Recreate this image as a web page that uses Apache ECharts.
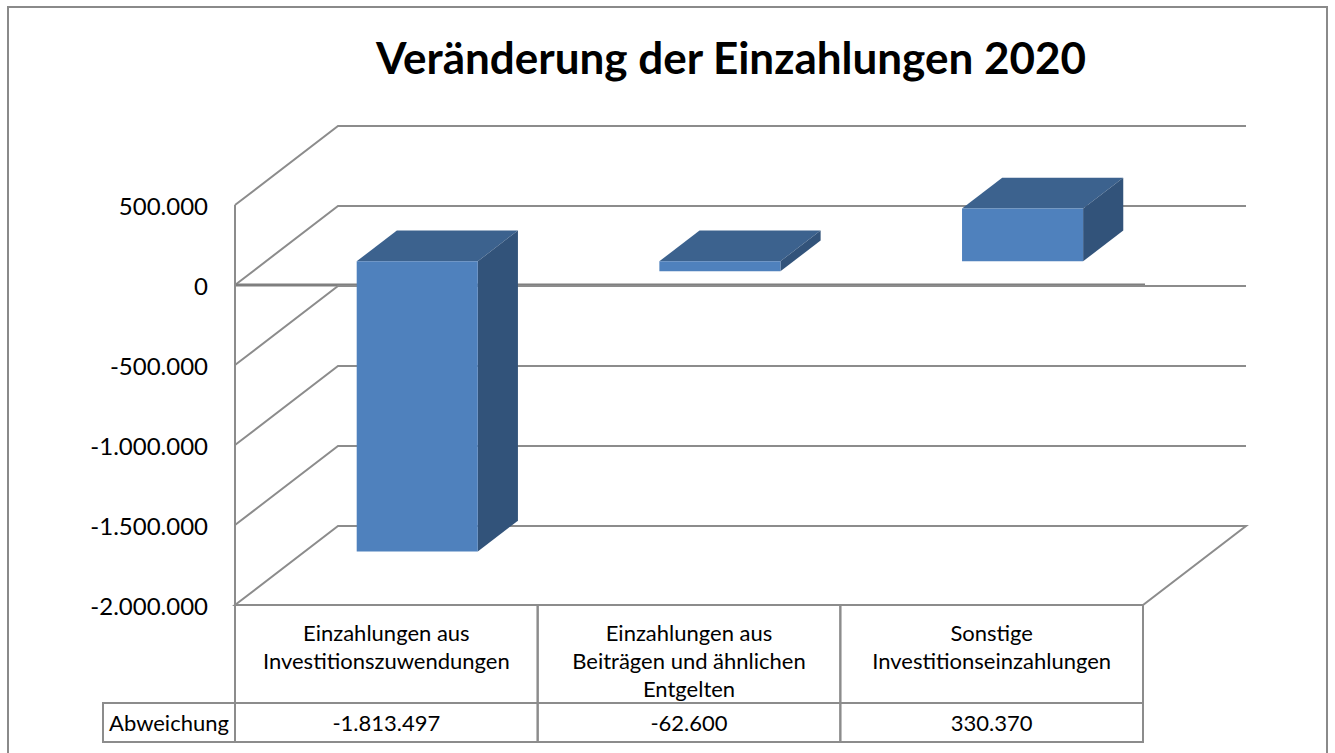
<!DOCTYPE html>
<html>
<head>
<meta charset="utf-8">
<script src="https://cdn.jsdelivr.net/npm/echarts@6/dist/echarts.min.js"></script>
<style>
html, body { margin: 0; padding: 0; background: #fff; }
#main { width: 1335px; height: 753px; }
</style>
</head>
<body>
<div id="main"></div>
<script>
// data
var categories = [
  'Einzahlungen aus\nInvestitionszuwendungen',
  'Einzahlungen aus\nBeiträgen und ähnlichen\nEntgelten',
  'Sonstige\nInvestitionseinzahlungen'
];
var abweichung = [-1813497, -62600, 330370];
var rowLabel = 'Abweichung';
var yTicks = [500000, 0, -500000, -1000000, -1500000, -2000000];

var FONT = 'Lato, "Open Sans", sans-serif';
var DX = 103, DY = -79;   // depth of the 3d box
var LINE = '#8c8c8c';
var yMax = yTicks[0], yMin = yTicks[yTicks.length - 1];

function fmt(v) {
  var s = String(Math.abs(v)).replace(/\B(?=(\d{3})+(?!\d))/g, '.');
  return (v < 0 ? '-' : '') + s;
}

var myChart = echarts.init(document.getElementById('main'), null, { renderer: 'svg' });

// back wall, left wall and floor lines
function renderWall(params, api) {
  var cs = params.coordSys;
  var v = api.value(1);
  var y = api.coord([0, v])[1];
  var x0 = cs.x, x1 = cs.x + cs.width;
  var kids = [];
  if (v === yMin) {
    kids.push({
      type: 'polygon',
      shape: { points: [[x0, y], [x1, y], [x1 + DX, y + DY], [x0 + DX, y + DY]] },
      style: { fill: 'none', stroke: LINE, lineWidth: 2 }
    });
    kids.push({
      type: 'line',
      shape: { x1: x0, y1: api.coord([0, yMax])[1], x2: x0, y2: y },
      style: { stroke: LINE, lineWidth: 2 }
    });
  } else {
    kids.push({
      type: 'polyline',
      shape: { points: [[x0, y], [x0 + DX, y + DY], [x1 + DX, y + DY]] },
      style: { fill: 'none', stroke: LINE, lineWidth: 2 }
    });
  }
  if (v === 0) {
    kids.push({
      type: 'line',
      shape: { x1: x0, y1: y, x2: x1 + 2, y2: y },
      style: { stroke: '#7f7f7f', lineWidth: 3 }
    });
  }
  return { type: 'group', children: kids };
}

// 3d bars
function renderBar(params, api) {
  var i = api.value(0), v = api.value(1);
  var base = api.coord([i, 0]), end = api.coord([i, v]);
  var w = api.size([1, 0])[0] * 0.4;
  var fx = 0.3 * DX, fy = 0.3 * DY;
  var bx = 0.39 * DX, by = 0.39 * DY;
  var l = base[0] - w / 2 + fx, r = l + w;
  var top = Math.min(base[1], end[1]) + fy;
  var bot = Math.max(base[1], end[1]) + fy;
  return {
    type: 'group',
    children: [
      { type: 'polygon', shape: { points: [[l, top], [r, top], [r + bx, top + by], [l + bx, top + by]] },
        style: { fill: '#3C628E' } },
      { type: 'polygon', shape: { points: [[r, top], [r + bx, top + by], [r + bx, bot + by], [r, bot]] },
        style: { fill: '#32537A' } },
      { type: 'rect', shape: { x: l, y: top, width: w, height: bot - top },
        style: { fill: '#4F81BD' } }
    ]
  };
}

// data table under the plot
function renderTable(params, api) {
  var cs = params.coordSys;
  var i = api.value(0);
  var c = api.coord([i, yMin]);
  var w = api.size([1, 0])[0];
  var l = c[0] - w / 2, top = cs.y + cs.height;
  var H1 = 98, H2 = 39;
  var cell = { fill: 'none', stroke: LINE, lineWidth: 2 };
  var kids = [
    { type: 'rect', shape: { x: l, y: top, width: w, height: H1 }, style: cell },
    { type: 'rect', shape: { x: l, y: top + H1, width: w, height: H2 }, style: cell },
    { type: 'text', x: c[0], y: top + 13,
      style: { text: categories[i], align: 'center', verticalAlign: 'top', lineHeight: 28,
               fontSize: 22, fontFamily: FONT, fill: '#000' } },
    { type: 'text', x: c[0], y: top + H1 + H2 / 2,
      style: { text: fmt(abweichung[i]), align: 'center', verticalAlign: 'middle',
               fontSize: 22, fontFamily: FONT, fill: '#000' } }
  ];
  if (i === 0) {
    kids.push({ type: 'rect', shape: { x: 103, y: top + H1, width: l - 103, height: H2 }, style: cell });
    kids.push({ type: 'text', x: (103 + l) / 2, y: top + H1 + H2 / 2,
      style: { text: rowLabel, align: 'center', verticalAlign: 'middle',
               fontSize: 22, fontFamily: FONT, fill: '#000' } });
  }
  return { type: 'group', children: kids };
}

myChart.setOption({
  animation: false,
  backgroundColor: '#fff',
  grid: { left: 235, right: 192, top: 205, bottom: 148 },
  xAxis: {
    type: 'category',
    data: categories,
    axisLine: { show: false },
    axisTick: { show: false },
    axisLabel: { show: false },
    splitLine: { show: false }
  },
  yAxis: {
    type: 'value',
    min: yMin,
    max: yMax,
    interval: 500000,
    axisLine: { show: false },
    axisTick: { show: false },
    splitLine: { show: false },
    axisLabel: { fontSize: 24, fontFamily: FONT, color: '#000', margin: 27, formatter: fmt }
  },
  graphic: [
    { type: 'rect', shape: { x: 8, y: 7, width: 1319, height: 760 },
      style: { fill: 'none', stroke: '#8a8a8a', lineWidth: 2 } },
    { type: 'text', x: 731, y: 57,
      style: { text: 'Veränderung der Einzahlungen 2020', align: 'center', verticalAlign: 'middle',
               fontSize: 44, fontWeight: 'bold', fontFamily: FONT, fill: '#000' } }
  ],
  series: [
    { type: 'custom', renderItem: renderWall, data: yTicks.map(function (v) { return [0, v]; }), z: 1, silent: true },
    { type: 'custom', renderItem: renderBar, data: abweichung.map(function (v, i) { return [i, v]; }), z: 3 },
    { type: 'custom', renderItem: renderTable, data: categories.map(function (c, i) { return [i, yMin]; }), z: 2, silent: true }
  ]
});
</script>
</body>
</html>
